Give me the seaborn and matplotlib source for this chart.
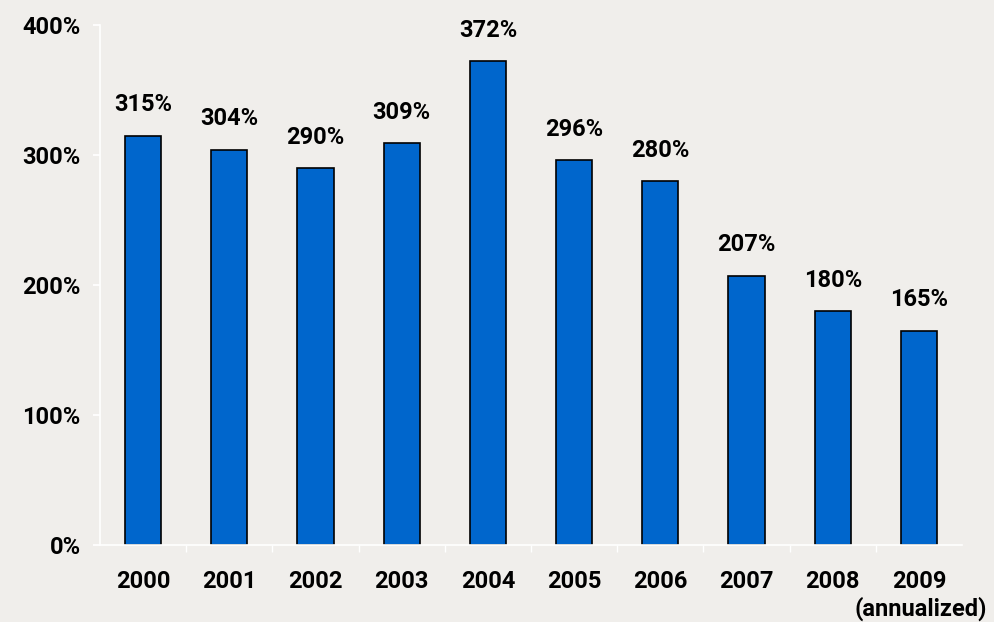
import matplotlib
matplotlib.use("Agg")
import matplotlib.pyplot as plt
import seaborn as sns
import pandas as pd
from matplotlib.ticker import FixedLocator, FuncFormatter
from matplotlib import font_manager

years = ["2000", "2001", "2002", "2003", "2004", "2005", "2006", "2007", "2008", "2009"]
values = [315, 304, 290, 309, 372, 296, 280, 207, 180, 165]
note_year = "2009"
note_text = "(annualized)"
yticks = [0, 100, 200, 300, 400]

sns.set_theme(style="white")
names = {f.name for f in font_manager.fontManager.ttflist}
main = "Liberation Sans Narrow" if "Liberation Sans Narrow" in names else "Roboto"
font = [main, "DejaVu Sans"]
plt.rcParams["font.family"] = font

bg = "#f0eeeb"
fig = plt.figure(figsize=(9.94, 6.22), dpi=100, facecolor=bg)
ax = fig.add_axes([100/994, 77/622, 862/994, 520/622])
ax.set_facecolor(bg)
ax.patch.set_alpha(0)

df = pd.DataFrame({"year": years, "value": values})
sns.barplot(data=df, x="year", y="value", color="#0066cc", saturation=1,
            width=0.42, edgecolor="black", linewidth=1.2, ax=ax)

ax.set_ylim(0, 400)
ax.set_xlim(-0.5, len(years) - 0.5)
ax.set_yticks(yticks)
ax.yaxis.set_major_formatter(FuncFormatter(lambda v, p: f"{int(v)}%"))
ax.set_xlabel("")
ax.set_ylabel("")

fs = 17
for i, v in enumerate(values):
    ax.annotate(f"{v}%", (i, v), xytext=(0, 14), textcoords="offset points",
                ha="center", va="bottom", fontsize=fs, fontweight="bold",
                family=font, color="black")

# note under the last year label
ax.annotate(note_text, xy=(years.index(note_year), 0),
            xycoords=("data", "axes fraction"), xytext=(1, -37),
            textcoords="offset points", ha="center", va="top",
            fontsize=fs, fontweight="bold", family=font, color="black",
            annotation_clip=False)

for side in ["top", "right"]:
    ax.spines[side].set_visible(False)
for side in ["left", "bottom"]:
    ax.spines[side].set_color("white")
    ax.spines[side].set_linewidth(1.2)

ax.tick_params(axis="y", which="major", left=True, length=5, color="white",
               labelsize=fs, pad=9)
ax.tick_params(axis="x", which="major", bottom=False, labelsize=fs, pad=12)
ax.xaxis.set_minor_locator(FixedLocator([i + 0.5 for i in range(len(years) - 1)]))
ax.tick_params(axis="x", which="minor", bottom=True, length=5, color="white")
for lab in ax.get_xticklabels() + ax.get_yticklabels():
    lab.set_fontweight("bold")
    lab.set_color("black")

fig.savefig("out.png", dpi=100, facecolor=bg)
